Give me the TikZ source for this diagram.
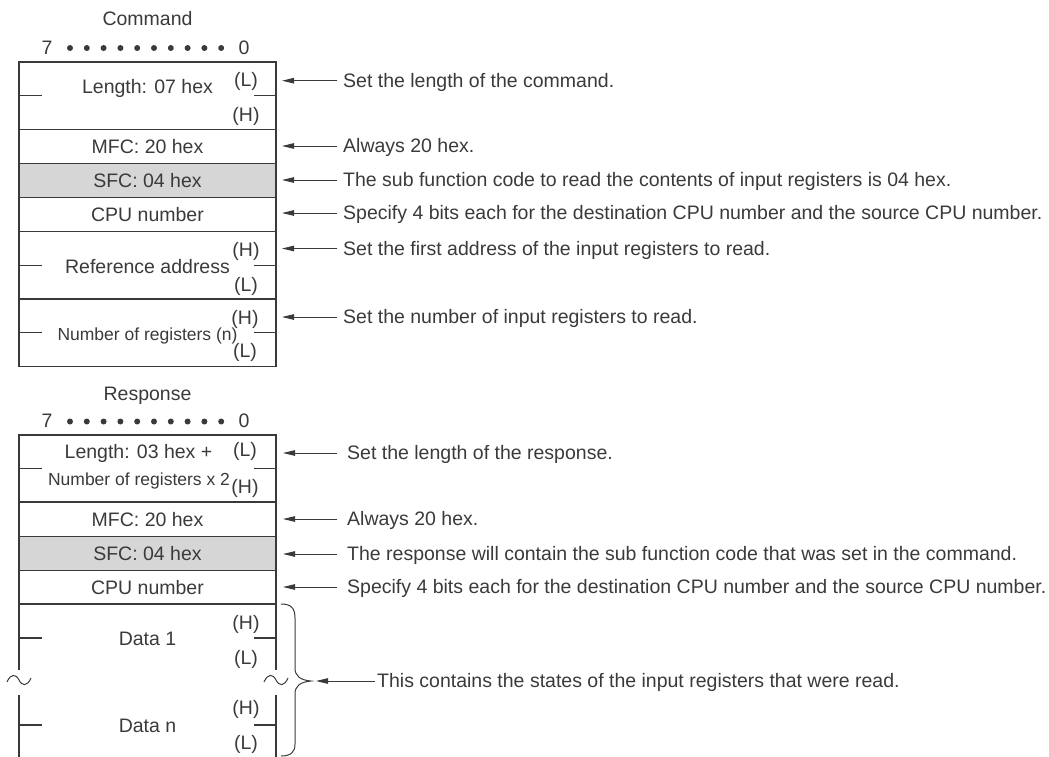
\documentclass[tikz,border=0pt]{standalone}
\usepackage{fontspec}
\setmainfont{Liberation Sans}
\usetikzlibrary{arrows.meta}
\definecolor{ink}{HTML}{3A3A3A}
\definecolor{sfcgray}{HTML}{D6D6D6}
\begin{document}
\begin{tikzpicture}[x=1pt,y=-1pt,
  every node/.style={text=ink, font=\fontsize{19.5}{22}\selectfont},
  row/.style={draw=ink, line width=1.2pt, minimum width=257pt, inner sep=0pt, outer sep=0pt, text height=13.5pt, text depth=0pt},
  lbl/.style={inner sep=0pt, text height=13.5pt, text depth=0pt},
  small/.style={font=\fontsize{17.5}{20}\selectfont},
  desc/.style={anchor=west, inner ysep=0pt, inner xsep=6pt, text height=13.5pt, text depth=0pt},
  arr/.style={draw=ink, line width=0.9pt, -{Triangle[length=12pt,width=5.5pt]}},
  box/.style={draw=ink, line width=1.2pt},
  bit/.style={circle, fill=ink, inner sep=0pt, minimum size=6pt},
  sfc/.style={row, fill=sfcgray},
]
\useasboundingbox (0,0) rectangle (1049,756);

% ================= Command =================
\node[lbl] (ctitle) at (147.5,18.5) {Command};
\node[lbl] (cb7) at (47,47.5) {7};
\node[lbl] (cb0) at (244,47.5) {0};
\foreach \i in {0,...,9} \node[bit] (cdot\i) at ({70+\i*16.8},48) {};

\node[row, minimum height=67.5pt] (clen) at (147.5,95.75) {};
\node[lbl] (clenl) at (147.5,87) {Length: 07 hex};
\node[lbl] (clenL) at (246,80) {(L)};
\node[lbl] (clenH) at (246,114.5) {(H)};
\draw[box] (clen.west) -- ++(23,0);
\draw[box] (clen.east) -- ++(-22,0);

\node[row, minimum height=34pt] (cmfc) at (147.5,146.5) {MFC: 20 hex};
\node[sfc, minimum height=34pt] (csfc) at (147.5,180.5) {SFC: 04 hex};
\node[row, minimum height=34pt] (ccpu) at (147.5,214.5) {CPU number};

\node[row, minimum height=67.5pt] (cref) at (147.5,265.25) {};
\node[lbl] (crefl) at (147.5,266.5) {Reference address};
\node[lbl] (crefH) at (246,250) {(H)};
\node[lbl] (crefL) at (246,284.5) {(L)};
\draw[box] (cref.west) -- ++(23,0);
\draw[box] (cref.east) -- ++(-22,0);

\node[row, minimum height=67.5pt] (cnum) at (147.5,332.75) {};
\node[lbl, small] (cnuml) at (147.5,334) {Number of registers (n)};
\node[lbl] (cnumH) at (245,318) {(H)};
\node[lbl] (cnumL) at (245,351) {(L)};
\draw[box] (cnum.west) -- ++(23,0);
\draw[box] (cnum.east) -- ++(-22,0);

% command descriptions
\foreach \n/\y/\t in {1/80.7/{Set the length of the command.},
                      2/146/{Always 20 hex.},
                      3/180/{The sub function code to read the contents of input registers is 04 hex.},
                      4/213/{Specify 4 bits each for the destination CPU number and the source CPU number.},
                      5/248.5/{Set the first address of the input registers to read.},
                      6/317/{Set the number of input registers to read.}}{
  \coordinate (ca\n) at (282,\y);
  \node[desc] (cd\n) at (337,\y) {\t};
  \draw[arr] (cd\n.west) -- (ca\n);
}

% ================= Response =================
\node[lbl] (rtitle) at (147.5,394) {Response};
\node[lbl] (rb7) at (47,421) {7};
\node[lbl] (rb0) at (244,421) {0};
\foreach \i in {0,...,9} \node[bit] (rdot\i) at ({70+\i*16.8},421.5) {};

\node[row, minimum height=67pt] (rlen) at (147.5,468.5) {};
\node[lbl] (rlenl) at (138.5,452) {Length: 03 hex +};
\node[lbl, small] (rlenl2) at (139,479) {Number of registers x 2};
\node[lbl] (rlenL) at (245,450) {(L)};
\node[lbl] (rlenH) at (245,486.5) {(H)};
\draw[box] (rlen.west) -- ++(23,0);
\draw[box] (rlen.east) -- ++(-22,0);

\node[row, minimum height=34.5pt] (rmfc) at (147.5,519.25) {MFC: 20 hex};
\node[sfc, minimum height=34pt] (rsfc) at (147.5,553.5) {SFC: 04 hex};
\node[row, minimum height=33.5pt] (rcpu) at (147.5,587.25) {CPU number};

% data area
\draw[box] (19,604) -- (19,670) (19,695) -- (19,757);
\draw[box] (276,604) -- (276,670) (276,695) -- (276,757);
\draw[box] (19,638) -- ++(23,0) (276,638) -- ++(-22,0);
\draw[box] (19,725) -- ++(23,0) (276,725) -- ++(-22,0);
\node[lbl] (rd1) at (147.5,639) {Data 1};
\node[lbl] (rd1H) at (246,623) {(H)};
\node[lbl] (rd1L) at (246,657.5) {(L)};
\node[lbl] (rdn) at (147.5,725.5) {Data n};
\node[lbl] (rdnH) at (246,707.5) {(H)};
\node[lbl] (rdnL) at (246,742.5) {(L)};

% break marks
\draw[ink, line width=1pt] (7,682) .. controls (11,673) and (16,674) .. (19,680) .. controls (22,686) and (27,687) .. (31,678);
\draw[ink, line width=1pt] (264,682) .. controls (268,673) and (273,674) .. (276,680) .. controls (279,686) and (284,687) .. (288,678);

% brace
\draw[ink, line width=1pt] (281,604) .. controls (291,604) and (295,608) .. (295,618) -- (295,668)
  .. controls (295,676) and (300,680) .. (311,681)
  .. controls (300,682) and (295,686) .. (295,694) -- (295,744)
  .. controls (295,752) and (291,756) .. (281,756);

% response descriptions
\foreach \n/\y/\t in {1/453/{Set the length of the response.},
                      2/519/{Always 20 hex.},
                      3/554/{The response will contain the sub function code that was set in the command.},
                      4/587/{Specify 4 bits each for the destination CPU number and the source CPU number.}}{
  \coordinate (ra\n) at (283,\y);
  \node[desc, inner xsep=10pt] (rd\n) at (337,\y) {\t};
  \draw[arr] (rd\n.west) -- (ra\n);
}
\coordinate (ra5) at (316,681);
\node[desc, inner xsep=2pt] (rdx5) at (375,681) {This contains the states of the input registers that were read.};
\draw[arr] (rdx5.west) -- (ra5);

\end{tikzpicture}
\end{document}
